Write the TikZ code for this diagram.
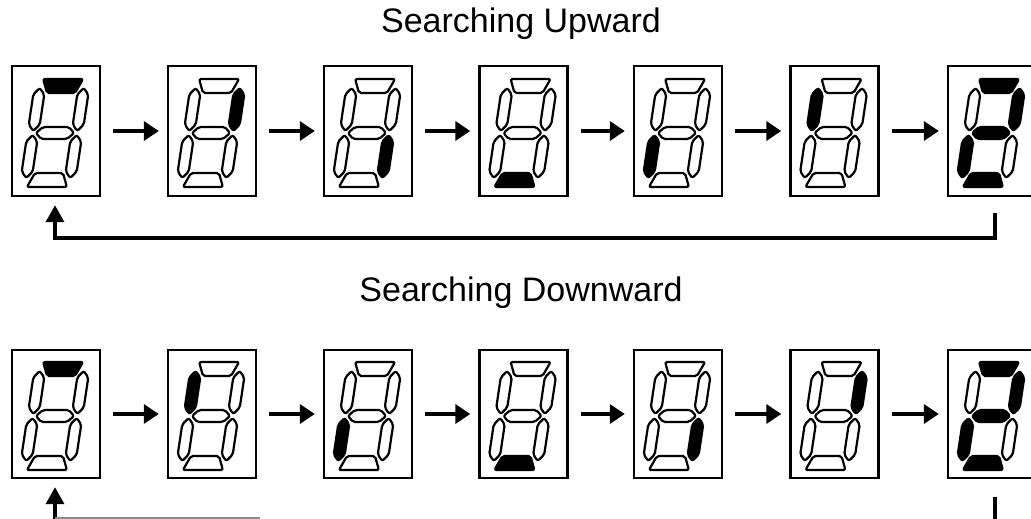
\documentclass[tikz,border=0pt]{standalone}
\usepackage{fontspec}
\setmainfont{Liberation Sans}
\usetikzlibrary{arrows.meta}
\tikzset{
  dbox/.style={draw, line width=2.4pt, minimum width=88pt, minimum height=130pt, inner sep=0pt},
  seg/.style={draw, line width=2.2pt, rounded corners=2pt, fill=white, line join=round},
  lit/.style={fill=black},
  unlit/.style={},
  flow/.style={line width=3.5pt, -{Triangle[length=15pt,width=19pt]}},
  back/.style={line width=3.5pt, -{Triangle[length=17pt,width=18pt]}},
  title/.style={font=\fontsize{34}{40}\selectfont, anchor=base},
}
\newcommand\segTop[1]{\path[seg,#1] (-20,-54) -- (20,-54) -- (14,-40) -- (-14,-40) -- cycle;}
\newcommand\segBot[1]{\path[seg,#1] (-14,40) -- (14,40) -- (20,54) -- (-20,54) -- cycle;}
\newcommand\segMid[1]{\path[seg,#1] (-19,0) -- (-13,-6) -- (13,-6) -- (19,0) -- (13,6) -- (-13,6) -- cycle;}
\newcommand\segV[3]{\path[seg,#3] (#1,#2-21.5) -- (#1+5.5,#2-15) -- (#1+5.5,#2+15) -- (#1,#2+21.5) -- (#1-5.5,#2+15) -- (#1-5.5,#2-15) -- cycle;}
\newcommand\sevenseg[8]{%
  \begin{scope}[shift={(#1.center)}]
  \begin{scope}[shift={(-1,2)}, xslant=0.15]
    \segTop{#2}
    \segV{22}{-23.5}{#3}
    \segV{22}{23.5}{#4}
    \segBot{#5}
    \segV{-22}{23.5}{#6}
    \segV{-22}{-23.5}{#7}
    \segMid{#8}
  \end{scope}
  \end{scope}}
\begin{document}
\begin{tikzpicture}[x=1pt, y=-1pt]
\fill[white] (0,0) rectangle (1031,519);
\useasboundingbox (0,0) rectangle (1031,519);

\node[title] (t1) at (521,33) {Searching Upward};
\node[title] (t2) at (521,301) {Searching Downward};

% top row
\node[dbox] (b1) at (56,131) {};
\node[dbox] (b2) at (212,131) {};
\node[dbox] (b3) at (368,131) {};
\node[dbox] (b4) at (523.5,131) {};
\node[dbox] (b5) at (678,131) {};
\node[dbox] (b6) at (834.5,131) {};
\node[dbox] (b7) at (992,131) {};

% bottom row
\node[dbox, minimum height=128pt] (d1) at (56,414) {};
\node[dbox, minimum height=128pt] (d2) at (212,414) {};
\node[dbox, minimum height=128pt] (d3) at (368,414) {};
\node[dbox, minimum height=128pt] (d4) at (523.5,414) {};
\node[dbox, minimum height=128pt] (d5) at (678,414) {};
\node[dbox, minimum height=128pt] (d6) at (834.5,414) {};
\node[dbox, minimum height=128pt] (d7) at (992,414) {};

% digits: a b c d e f g
\sevenseg{b1}{lit}{unlit}{unlit}{unlit}{unlit}{unlit}{unlit}
\sevenseg{b2}{unlit}{lit}{unlit}{unlit}{unlit}{unlit}{unlit}
\sevenseg{b3}{unlit}{unlit}{lit}{unlit}{unlit}{unlit}{unlit}
\sevenseg{b4}{unlit}{unlit}{unlit}{lit}{unlit}{unlit}{unlit}
\sevenseg{b5}{unlit}{unlit}{unlit}{unlit}{lit}{unlit}{unlit}
\sevenseg{b6}{unlit}{unlit}{unlit}{unlit}{unlit}{lit}{unlit}
\sevenseg{b7}{lit}{lit}{unlit}{lit}{lit}{unlit}{lit}

\sevenseg{d1}{lit}{unlit}{unlit}{unlit}{unlit}{unlit}{unlit}
\sevenseg{d2}{unlit}{unlit}{unlit}{unlit}{unlit}{lit}{unlit}
\sevenseg{d3}{unlit}{unlit}{unlit}{unlit}{lit}{unlit}{unlit}
\sevenseg{d4}{unlit}{unlit}{unlit}{lit}{unlit}{unlit}{unlit}
\sevenseg{d5}{unlit}{unlit}{lit}{unlit}{unlit}{unlit}{unlit}
\sevenseg{d6}{unlit}{lit}{unlit}{unlit}{unlit}{unlit}{unlit}
\sevenseg{d7}{lit}{lit}{unlit}{lit}{lit}{unlit}{lit}

% arrows
\foreach \i/\j in {1/2,2/3,3/4,4/5,5/6,6/7}{
  \draw[flow, shorten <=12pt, shorten >=8pt] (b\i) -- (b\j);
  \draw[flow, shorten <=12pt, shorten >=8pt] (d\i) -- (d\j);
}

% return loop (top)
\coordinate (r1) at (995,213);
\coordinate (c1) at (995,238);
\draw[back, shorten >=8pt] (r1) -- (c1) -| ([xshift=-1pt]b1.south);

% return loop (bottom, cut off)
\coordinate (l2) at (55,525);
\coordinate (l2c) at (55,518);
\coordinate (h2) at (260,518);
\draw[back, shorten >=8pt] (l2) -- ([xshift=-1pt]d1.south);
\draw[black!45, line width=1.2pt] (l2c) -- (h2);
\coordinate (r2) at (995,497);
\coordinate (r2e) at (995,525);
\draw[line width=3.5pt] (r2) -- (r2e);
\end{tikzpicture}
\end{document}
